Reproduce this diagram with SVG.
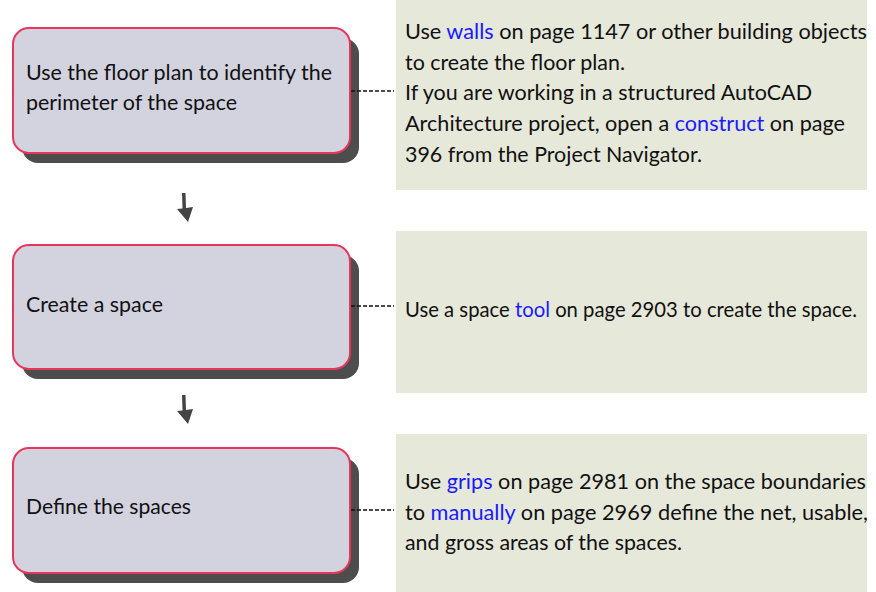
<svg xmlns="http://www.w3.org/2000/svg" width="876" height="592" viewBox="0 0 876 592">
<defs>
<style>
.shadow{fill:#4d4d4d}
.box{fill:#d3d3df;stroke:#e8365a;stroke-width:2}
.panel{fill:#e6e8da}
.t{font-family:Lato,"Liberation Sans",sans-serif;font-size:20.5px;fill:#111}
.lk{fill:#1a1aff}
.dash{stroke:#111;stroke-width:1.4;stroke-dasharray:4 2;fill:none}
.arr{fill:#444}
</style>
</defs>
<rect width="876" height="592" fill="#fff"/>
<g id="panel1">
<rect class="panel" x="396" y="0" width="471" height="190"/>
<text class="t" x="405" y="38.5" textLength="462" lengthAdjust="spacingAndGlyphs">Use <tspan class="lk">walls</tspan> on page 1147 or other building objects</text>
<text class="t" x="405" y="69.5" textLength="220" lengthAdjust="spacingAndGlyphs">to create the floor plan.</text>
<text class="t" x="405" y="100" textLength="407" lengthAdjust="spacingAndGlyphs">If you are working in a structured AutoCAD</text>
<text class="t" x="405" y="131" textLength="440" lengthAdjust="spacingAndGlyphs">Architecture project, open a <tspan class="lk">construct</tspan> on page</text>
<text class="t" x="405" y="162" textLength="297" lengthAdjust="spacingAndGlyphs">396 from the Project Navigator.</text>
</g>
<g id="panel2">
<rect class="panel" x="396" y="231" width="471" height="162"/>
<text class="t" x="405" y="317" textLength="452" lengthAdjust="spacingAndGlyphs">Use a space <tspan class="lk">tool</tspan> on page 2903 to create the space.</text>
</g>
<g id="panel3">
<rect class="panel" x="396" y="434" width="471" height="158"/>
<text class="t" x="405" y="488.5" textLength="461" lengthAdjust="spacingAndGlyphs">Use <tspan class="lk">grips</tspan> on page 2981 on the space boundaries</text>
<text class="t" x="405" y="519.5" textLength="463" lengthAdjust="spacingAndGlyphs">to <tspan class="lk">manually</tspan> on page 2969 define the net, usable,</text>
<text class="t" x="405" y="549.5" textLength="277" lengthAdjust="spacingAndGlyphs">and gross areas of the spaces.</text>
</g>
<g id="step1">
<rect class="shadow" x="22" y="38" width="337" height="125" rx="16"/>
<rect class="box" x="13" y="28" width="337" height="125" rx="16"/>
<text class="t" x="26" y="80" textLength="306" lengthAdjust="spacingAndGlyphs">Use the floor plan to identify the</text>
<text class="t" x="26" y="110" textLength="211" lengthAdjust="spacingAndGlyphs">perimeter of the space</text>
</g>
<g id="step2">
<rect class="shadow" x="22" y="255" width="337" height="124" rx="16"/>
<rect class="box" x="13" y="245" width="337" height="124" rx="16"/>
<text class="t" x="26" y="311.5" textLength="137" lengthAdjust="spacingAndGlyphs">Create a space</text>
</g>
<g id="step3">
<rect class="shadow" x="22" y="458" width="337" height="125" rx="16"/>
<rect class="box" x="13" y="448" width="337" height="125" rx="16"/>
<text class="t" x="26" y="513.5" textLength="165" lengthAdjust="spacingAndGlyphs">Define the spaces</text>
</g>
<g id="connectors">
<line class="dash" x1="351" y1="91" x2="394" y2="91"/>
<line class="dash" x1="351" y1="306" x2="394" y2="306"/>
<line class="dash" x1="351" y1="510" x2="394" y2="510"/>
<path class="arr" d="M182,193 L185.5,193 L186,208 L193,207 L188,222 L177,209 L182.5,208.5 Z"/>
<path class="arr" d="M182,395 L185.5,395 L186,410 L193,409 L188,424 L177,411 L182.5,410.5 Z"/>
</g>
</svg>
